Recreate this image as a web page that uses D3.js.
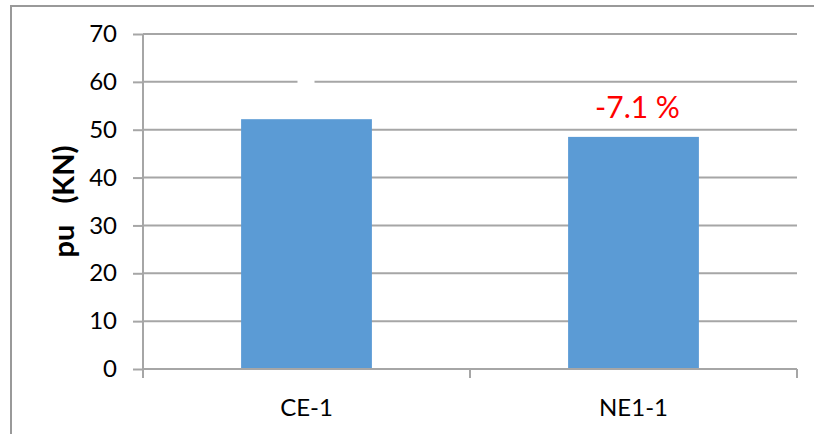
<!DOCTYPE html>
<html><head><meta charset="utf-8">
<script src="https://cdn.jsdelivr.net/npm/d3@7"></script>
<style>
html,body{margin:0;padding:0;background:#fff;}
svg{display:block;}
text{font-family:"Lato",sans-serif;}
</style></head>
<body>
<svg id="chart" width="814" height="434"></svg>
<script>
const categories = ["CE-1", "NE1-1"];
const values = [52.2, 48.5];
const barLabels = ["", "-7.1 %"];
const yTicks = [0, 10, 20, 30, 40, 50, 60, 70];
const yTitle = "pu   (KN)";

const svg = d3.select("#chart");
const W = 814, H = 434;
const mLeft = 143, mRight = 797, mTop = 34, mBottom = 369;
const FF = '"Lato",sans-serif';

// outer border
svg.append("rect").attr("x", 11).attr("y", 6).attr("width", 820).attr("height", 440)
  .attr("fill", "#fff").attr("stroke", "#999").attr("stroke-width", 2);

const x = d3.scaleBand().domain(categories).range([mLeft, mRight]).paddingInner(0.6).paddingOuter(0.3);
const y = d3.scaleLinear().domain([0, 70]).range([mBottom, mTop]);

// gridlines
svg.append("g").selectAll("line").data(yTicks.filter(d => d > 0)).join("line")
  .attr("x1", mLeft).attr("x2", mRight).attr("y1", d => y(d)).attr("y2", d => y(d))
  .attr("stroke", "#a6a6a6").attr("stroke-width", 2);

// y axis
const yAxis = svg.append("g").attr("transform", `translate(${mLeft},0)`)
  .call(d3.axisLeft(y).tickValues(yTicks).tickSize(10).tickPadding(16));
yAxis.select(".domain").attr("stroke", "#a6a6a6").attr("stroke-width", 2).attr("d", `M0,${mTop}V${mBottom}`);
yAxis.selectAll(".tick line").attr("stroke", "#a6a6a6").attr("stroke-width", 2);
yAxis.selectAll(".tick text").attr("font-size", 24).attr("fill", "#000").style("font-family", FF);

// bars
svg.append("g").selectAll("rect").data(values).join("rect")
  .attr("x", (d, i) => x(categories[i])).attr("width", x.bandwidth())
  .attr("y", d => y(d)).attr("height", d => y(0) - y(d)).attr("fill", "#5b9bd5");

// x axis
const xAxis = svg.append("g").attr("transform", `translate(0,${mBottom})`)
  .call(d3.axisBottom(x).tickSize(0).tickPadding(30));
xAxis.select(".domain").remove();
svg.append("line").attr("x1", mLeft).attr("x2", mRight).attr("y1", mBottom).attr("y2", mBottom)
  .attr("stroke", "#a6a6a6").attr("stroke-width", 2);
const step = x.step();
const bTicks = [mLeft, mLeft + step, mRight];
svg.append("g").selectAll("line").data(bTicks).join("line")
  .attr("x1", d => d).attr("x2", d => d).attr("y1", mBottom).attr("y2", mBottom + 9)
  .attr("stroke", "#a6a6a6").attr("stroke-width", 2);
xAxis.selectAll(".tick text").attr("font-size", 24).attr("fill", "#000").style("font-family", FF);

// data labels (with white background box)
const lbl = svg.append("g");
values.forEach((v, i) => {
  const cx = x(categories[i]) + x.bandwidth() / 2;
  const by = y(v) - 19;
  if (barLabels[i] === "") {
    lbl.append("rect").attr("x", cx - 9).attr("y", by - 34).attr("width", 17).attr("height", 28).attr("fill", "#fff");
  } else {
    lbl.append("text").attr("x", cx + 4).attr("y", by).attr("text-anchor", "middle")
      .attr("font-size", 30).attr("fill", "#ff0000").text(barLabels[i]);
  }
});

// y title
svg.append("text").attr("transform", `translate(74,${(mTop + mBottom) / 2}) rotate(-90)`)
  .attr("text-anchor", "middle").attr("font-size", 29).attr("font-weight", "bold")
  .attr("fill", "#000").style("white-space", "pre").text(yTitle);
</script>
</body></html>
